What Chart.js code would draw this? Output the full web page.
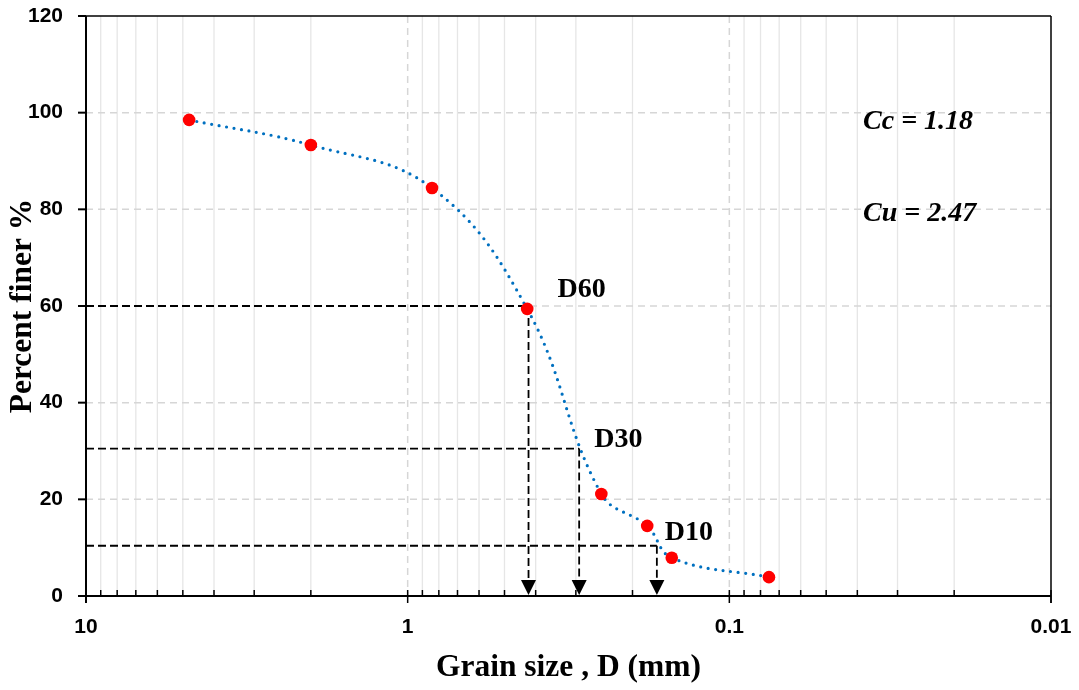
<!DOCTYPE html>
<html><head><meta charset="utf-8">
<script src="https://cdn.jsdelivr.net/npm/chart.js@4.4.1/dist/chart.umd.min.js"></script>
<style>html,body{margin:0;padding:0;background:#fff;}#wrap{width:1079px;height:690px;position:relative;}</style>
</head><body><div id="wrap"><canvas id="c" width="1079" height="690"></canvas></div>
<script>
// ---- data ----
const grainSize = [4.78, 2.0, 0.84, 0.425, 0.25, 0.18, 0.151, 0.0753];
const percentFiner = [98.5, 93.3, 84.4, 59.4, 21.1, 14.5, 7.9, 3.9];
const xTickLabels = [10, 1, 0.1, 0.01];
const yTicks = [0, 20, 40, 60, 80, 100, 120];
const guideNames = ['D60', 'D30', 'D10'];
const guideSizes = [0.421, 0.293, 0.168];
const guidePercents = [60, 30.5, 10.4];
const coefText = ['Cc = 1.18', 'Cu = 2.47'];
const coefX = [0.0384, 0.0384];
const coefY = [96.6, 77.6];

const serif = '"Liberation Serif", "Times New Roman", serif';
const sans = '"Liberation Sans", Arial, sans-serif';

function isDecade(v){ const l = Math.log10(v); return Math.abs(l - Math.round(l)) < 1e-9; }

const decor = {
  id: 'decor',
  beforeDatasetsDraw(chart){
    const {ctx, chartArea: a, scales: {x, y}} = chart;
    const line = (x1,y1,x2,y2)=>{ctx.beginPath();ctx.moveTo(x1,y1);ctx.lineTo(x2,y2);ctx.stroke();};
    ctx.save();
    // minor vertical grid lines
    ctx.strokeStyle = '#e6e6e6'; ctx.lineWidth = 1.3; ctx.setLineDash([]);
    const minors = [];
    for (let e = -2; e < 1; e++) for (let m = 2; m <= 9; m++) minors.push(m * Math.pow(10, e));
    minors.forEach(v => { const px = x.getPixelForValue(v); line(px, a.top, px, a.bottom); });
    // major dashed grid lines
    ctx.strokeStyle = '#d6d6d6'; ctx.lineWidth = 1.5; ctx.setLineDash([7, 5]);
    xTickLabels.forEach(v => { if (v < 10 && v > 0.01) { const px = x.getPixelForValue(v); line(px, a.top, px, a.bottom); } });
    yTicks.forEach(v => { if (v > 0 && v < 120) { const py = y.getPixelForValue(v); line(a.left, py, a.right, py); } });
    // guide lines
    ctx.strokeStyle = '#000'; ctx.lineWidth = 1.8; ctx.setLineDash([8, 4]);
    guideSizes.forEach((g, i) => {
      const gx = x.getPixelForValue(g), gy = y.getPixelForValue(guidePercents[i]);
      line(a.left, gy, gx, gy);
      line(gx, gy, gx, a.bottom - 14);
    });
    ctx.setLineDash([]); ctx.fillStyle = '#000';
    guideSizes.forEach(g => {
      const gx = x.getPixelForValue(g);
      ctx.beginPath(); ctx.moveTo(gx - 7.5, a.bottom - 16); ctx.lineTo(gx + 7.5, a.bottom - 16); ctx.lineTo(gx, a.bottom - 1); ctx.closePath(); ctx.fill();
    });
    // frame
    ctx.strokeStyle = '#000';
    ctx.lineWidth = 1.5;
    line(a.left - 8, a.top, a.right, a.top);
    line(a.right, a.top, a.right, a.bottom + 7);
    ctx.lineWidth = 2;
    line(a.left, a.top, a.left, a.bottom + 7);
    line(a.left - 8, a.bottom, a.right, a.bottom);
    // y tick marks
    yTicks.forEach(v => { const py = y.getPixelForValue(v); line(a.left - 8, py, a.left, py); });
    // x tick marks
    ctx.lineWidth = 1.5;
    minors.forEach(v => { const px = x.getPixelForValue(v); line(px, a.bottom - 6, px, a.bottom); });
    xTickLabels.forEach(v => { const px = x.getPixelForValue(v); line(px, a.bottom - 6, px, a.bottom + 7); });
    ctx.restore();
  },
  afterDatasetsDraw(chart){
    const {ctx, scales: {x, y}} = chart;
    ctx.save();
    ctx.fillStyle = '#000';
    ctx.textBaseline = 'alphabetic'; ctx.textAlign = 'left';
    ctx.font = 'bold 28px ' + serif;
    const offs = [[29, -9], [15, -2], [8, -6]];
    guideNames.forEach((n, i) => {
      const gx = x.getPixelForValue(guideSizes[i]), gy = y.getPixelForValue(guidePercents[i]);
      ctx.fillText(n, gx + offs[i][0], gy + offs[i][1]);
    });
    ctx.font = 'italic bold 28px ' + serif;
    coefText.forEach((t, i) => ctx.fillText(t, x.getPixelForValue(coefX[i]), y.getPixelForValue(coefY[i])));
    ctx.restore();
  }
};

new Chart(document.getElementById('c'), {
  type: 'line',
  data: {
    datasets: [{
      data: grainSize.map((g, i) => ({x: g, y: percentFiner[i]})),
      borderColor: '#0070C0',
      borderWidth: 3.2,
      borderDash: [0, 7.6],
      borderCapStyle: 'round',
      tension: 0.4,
      pointRadius: 6.3,
      pointHoverRadius: 6.3,
      pointBackgroundColor: '#FF0000',
      pointBorderWidth: 0,
      fill: false
    }]
  },
  plugins: [decor],
  options: {
    responsive: false,
    animation: false,
    devicePixelRatio: 1,
    layout: {padding: {top: 16, right: 28, left: 0, bottom: 0}},
    plugins: {legend: {display: false}, tooltip: {enabled: false}},
    scales: {
      x: {
        type: 'logarithmic', reverse: true, min: 0.01, max: 10,
        grid: {display: false, drawTicks: true, tickLength: 19},
        border: {display: false},
        afterFit: s => { s.height = 94; },
        ticks: {
          autoSkip: false, maxRotation: 0, padding: 0, color: '#000',
          font: {family: sans, size: 21, weight: 'bold'},
          callback: v => isDecade(v) ? String(v) : ''
        },
        title: {display: true, text: 'Grain size , D (mm)', color: '#000',
          font: {family: serif, size: 31.5, weight: 'bold'}, padding: {top: 0, bottom: 3}}
      },
      y: {
        min: 0, max: 120,
        grid: {display: false, drawTicks: true, tickLength: 23},
        border: {display: false},
        afterFit: s => { s.width = 86; },
        ticks: {stepSize: 20, padding: 0, color: '#000', font: {family: sans, size: 21, weight: 'bold'}},
        title: {display: true, text: 'Percent finer %', color: '#000',
          font: {family: serif, size: 31.5, weight: 'bold'}, padding: {top: 4, bottom: 0}}
      }
    }
  }
});
</script></body></html>
